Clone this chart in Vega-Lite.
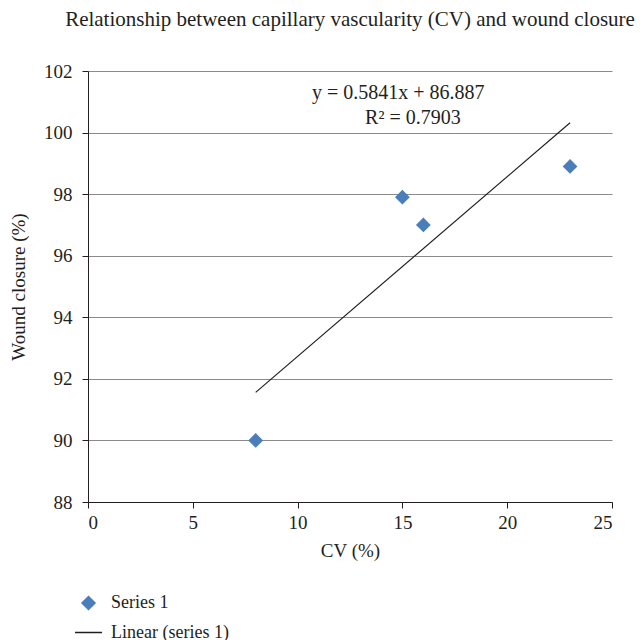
{
  "$schema": "https://vega.github.io/schema/vega-lite/v6.json",
  "width": 524,
  "height": 431,
  "autosize": "none",
  "padding": {"left": 88, "top": 71, "right": 29, "bottom": 138},
  "background": "white",
  "config": {
    "font": "Liberation Serif",
    "view": {"stroke": null},
    "axis": {"labelFont": "Liberation Serif", "titleFont": "Liberation Serif", "labelFontSize": 19, "titleFontSize": 19, "titleFontWeight": "normal", "labelColor": "#231f20", "titleColor": "#231f20", "domainColor": "#231f20", "tickColor": "#231f20", "tickSize": 6},
    "legend": {"labelFont": "Liberation Serif", "labelFontSize": 18, "labelColor": "#231f20", "labelBaseline": "middle", "title": null, "orient": "none", "legendX": -14, "legendY": 523, "direction": "vertical", "rowPadding": 5, "labelOffset": 8}
  },
  "title": {"text": "Relationship between capillary vascularity (CV) and wound closure", "fontSize": 21, "fontWeight": "normal", "font": "Liberation Serif", "color": "#231f20", "anchor": "middle", "offset": 32},
  "datasets": {
    "points": [
      {"cv": 8, "wc": 90.0, "series": "Series 1"},
      {"cv": 15, "wc": 97.9, "series": "Series 1"},
      {"cv": 16, "wc": 97.0, "series": "Series 1"},
      {"cv": 23, "wc": 98.9, "series": "Series 1"}
    ],
    "trend": [
      {"cv": 8, "wc": 91.56, "series": "Linear (series 1)"},
      {"cv": 23, "wc": 100.32, "series": "Linear (series 1)"}
    ],
    "labels": [
      {"cv": 14.8, "wc": 101.28, "label": "y = 0.5841x + 86.887"},
      {"cv": 15.5, "wc": 100.46, "label": "R² = 0.7903"}
    ]
  },
  "layer": [
    {
      "data": {"name": "trend"},
      "mark": {"type": "line", "strokeWidth": 1.2, "color": "#231f20"},
      "encoding": {
        "x": {"field": "cv", "type": "quantitative", "scale": {"domain": [0, 25], "nice": false}, "axis": {"values": [0, 5, 10, 15, 20, 25], "grid": false, "title": "CV (%)", "labelPadding": 5, "titlePadding": 9}},
        "y": {"field": "wc", "type": "quantitative", "scale": {"domain": [88, 102], "zero": false, "nice": false}, "axis": {"values": [88, 90, 92, 94, 96, 98, 100, 102], "grid": true, "gridColor": "#8a8a8a", "gridWidth": 1.2, "title": "Wound closure (%)", "labelPadding": 10, "titlePadding": 15}}
      }
    },
    {
      "data": {"name": "points"},
      "mark": {"type": "point", "filled": true, "size": 170, "opacity": 1, "strokeWidth": 1.2},
      "encoding": {
        "x": {"field": "cv", "type": "quantitative"},
        "y": {"field": "wc", "type": "quantitative"},
        "color": {"field": "series", "type": "nominal", "scale": {"domain": ["Series 1", "Linear (series 1)"], "range": ["#4a7ebb", "#231f20"]}},
        "stroke": {"field": "series", "type": "nominal", "scale": {"domain": ["Series 1", "Linear (series 1)"], "range": ["#4a7ebb", "#231f20"]}},
        "shape": {"field": "series", "type": "nominal", "scale": {"domain": ["Series 1", "Linear (series 1)"], "range": ["diamond", "stroke"]}},
        "size": {"field": "series", "type": "nominal", "scale": {"domain": ["Series 1", "Linear (series 1)"], "range": [170, 729]}}
      }
    },
    {
      "data": {"name": "labels"},
      "mark": {"type": "text", "fontSize": 20, "font": "Liberation Serif", "color": "#231f20", "align": "center", "baseline": "middle"},
      "encoding": {
        "x": {"field": "cv", "type": "quantitative"},
        "y": {"field": "wc", "type": "quantitative"},
        "text": {"field": "label"}
      }
    }
  ]
}
